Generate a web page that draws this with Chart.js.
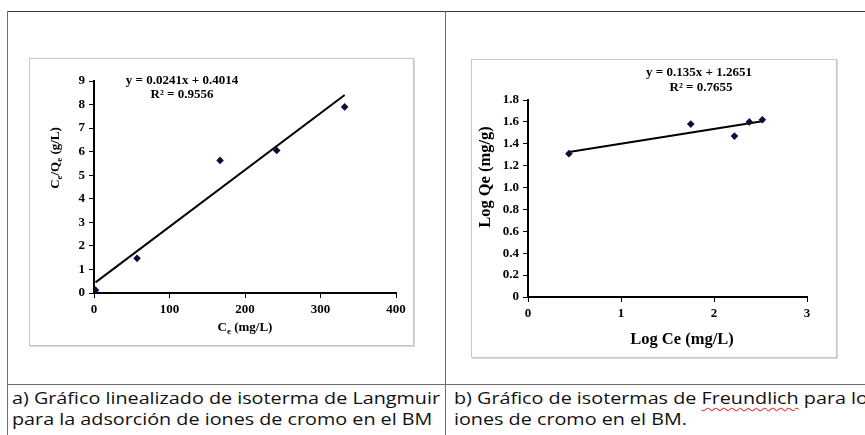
<!DOCTYPE html>
<html>
<head>
<meta charset="utf-8">
<title>Isotermas de adsorción</title>
<script src="https://cdn.jsdelivr.net/npm/chart.js@4.4.1/dist/chart.umd.min.js"></script>
<style>
  body { margin: 0; background: #fff; width: 865px; height: 435px; overflow: hidden; position: relative; }
  .rule { position: absolute; background: #6e6e6e; }
  .frame { position: absolute; box-sizing: border-box; border: 1px solid #c6c6c6; box-shadow: 1px 1px 0 #d8d8d8; }
  canvas { position: absolute; }
  .caption { position: absolute; font-family: "Open Sans", Lato, sans-serif; font-size: 17px; line-height: 21px; color: #111; white-space: nowrap; transform-origin: 0 0; }
  .typo { text-decoration: underline wavy #e23b3b; text-decoration-thickness: 1px; text-underline-offset: 3px; }
</style>
</head>
<body>

<!-- table grid -->
<div class="rule" style="left:7px;top:11px;width:858px;height:1px;background:#3a3a3a"></div>
<div class="rule" style="left:7px;top:11px;width:1px;height:424px"></div>
<div class="rule" style="left:445px;top:11px;width:1px;height:424px"></div>
<div class="rule" style="left:7px;top:384px;width:858px;height:1px"></div>

<div class="frame" style="left:29px;top:58px;width:385px;height:288px"></div>
<canvas id="langmuir" width="385" height="288" style="left:29px;top:58px"></canvas>

<div class="frame" style="left:471px;top:59px;width:366px;height:299px"></div>
<canvas id="freundlich" width="366" height="299" style="left:471px;top:59px"></canvas>

<div class="caption" id="capA" style="left:12px;top:387px"><span id="capA1">a) Gráfico linealizado de isoterma de Langmuir</span><br>para la adsorción de iones de cromo en el BM</div>
<div class="caption" id="capB" style="left:454px;top:387px">b) Gráfico de isotermas de <span class="typo">Freundlich</span> para los<br>iones de cromo en el BM.</div>

<script>
// Langmuir: Ce vs Ce/Qe
const langCe = [2, 57, 167, 242, 332];
const langRatio = [0.12, 1.47, 5.63, 6.05, 7.9];
const langSlope = 0.0241;
const langIntercept = 0.4014;
const langR2 = 0.9556;
const langXTicks = [0, 100, 200, 300, 400];
const langYTicks = [0, 1, 2, 3, 4, 5, 6, 7, 8, 9];

// Freundlich: log Ce vs log Qe
const freLogCe = [0.44, 1.75, 2.22, 2.38, 2.52];
const freLogQe = [1.31, 1.58, 1.47, 1.60, 1.62];
const freSlope = 0.135;
const freIntercept = 1.2651;
const freR2 = 0.7655;
const freXTicks = [0, 1, 2, 3];
const freYTicks = [0, 0.2, 0.4, 0.6, 0.8, 1, 1.2, 1.4, 1.6, 1.8];

const SERIF = "'Liberation Serif', 'Times New Roman', serif";
const MARKER = '#0c0c3a';

Chart.defaults.font.family = SERIF;
Chart.defaults.font.weight = 'bold';
Chart.defaults.font.size = 13;
Chart.defaults.color = '#000';

// stretch the caption lines to the cell width
let capWidth = document.getElementById('capA1').getBoundingClientRect().width;
let capScale = 428 / capWidth;
document.getElementById('capA').style.transform = 'scaleX(' + capScale + ')';
document.getElementById('capB').style.transform = 'scaleX(' + capScale + ')';

function points(xs, ys) {
    return xs.map((x, i) => ({ x: x, y: ys[i] }));
}

function trend(xs, slope, intercept) {
    let lo = Math.min(...xs), hi = Math.max(...xs);
    return [{ x: lo, y: slope * lo + intercept }, { x: hi, y: slope * hi + intercept }];
}

// text with optional subscript runs, centred on (x, y), optionally rotated
function drawRich(ctx, item) {
    let size = item.size;
    let runs = item.parts.map(p => ({ text: p[0], sub: !!p[1] }));
    let width = 0;
    runs.forEach(r => {
        ctx.font = 'bold ' + (r.sub ? size * 0.68 : size) + 'px ' + SERIF;
        r.w = ctx.measureText(r.text).width;
        width += r.w;
    });
    ctx.save();
    ctx.translate(item.x, item.y);
    if (item.rot) ctx.rotate(item.rot);
    ctx.fillStyle = '#000';
    ctx.textBaseline = 'alphabetic';
    let cx = -width / 2;
    runs.forEach(r => {
        ctx.font = 'bold ' + (r.sub ? size * 0.68 : size) + 'px ' + SERIF;
        ctx.fillText(r.text, cx, size * 0.33 + (r.sub ? size * 0.22 : 0));
        cx += r.w;
    });
    ctx.restore();
}

function notes(items) {
    return {
        id: 'notes',
        afterDraw(chart) {
            items.forEach(it => drawRich(chart.ctx, it));
        }
    };
}

function axis(min, max, step, tickList, size) {
    return {
        type: 'linear',
        min: min,
        max: max,
        afterFit: s => { if (s.isHorizontal()) s.height = size; else s.width = size; },
        afterBuildTicks: s => { s.ticks = tickList.map(v => ({ value: v })); },
        grid: { drawOnChartArea: false, drawTicks: true, tickLength: 5, color: '#000', lineWidth: 1 },
        border: { display: true, color: '#000', width: 2 },
        ticks: {
            stepSize: step,
            padding: 4,
            color: '#000',
            font: { family: SERIF, size: 13, weight: 'bold' }
        }
    };
}

function scatterChart(id, cfg) {
    let el = document.getElementById(id);
    return new Chart(el, {
        type: 'scatter',
        data: {
            datasets: [{
                data: cfg.trend,
                showLine: true,
                borderColor: '#000',
                borderWidth: 2,
                pointRadius: 0,
                order: 1
            }, {
                data: cfg.points,
                pointStyle: 'rectRot',
                pointRadius: 3.8,
                backgroundColor: MARKER,
                borderColor: MARKER,
                borderWidth: 0,
                order: 0
            }]
        },
        options: {
            responsive: false,
            animation: false,
            layout: { padding: cfg.padding },
            plugins: { legend: { display: false }, tooltip: { enabled: false } },
            scales: { x: cfg.x, y: cfg.y }
        },
        plugins: [notes(cfg.notes)]
    });
}

scatterChart('langmuir', {
    points: points(langCe, langRatio),
    trend: trend(langCe, langSlope, langIntercept),
    padding: { top: 23, right: 18, bottom: 0, left: 0 },
    x: axis(0, 400, 100, langXTicks, 53),
    y: axis(0, 9, 1, langYTicks, 65),
    notes: [
        { parts: [['y = ' + langSlope + 'x + ' + langIntercept]], x: 153, y: 22, size: 13 },
        { parts: [['R² = ' + langR2]], x: 153, y: 36, size: 13 },
        { parts: [['C'], ['e', 1], [' (mg/L)']], x: 216, y: 269, size: 13 },
        { parts: [['C'], ['e', 1], ['/Q'], ['e', 1], [' (g/L)']], x: 26, y: 100, size: 13, rot: -Math.PI / 2 }
    ]
});

scatterChart('freundlich', {
    points: points(freLogCe, freLogQe),
    trend: trend(freLogCe, freSlope, freIntercept),
    padding: { top: 41, right: 30, bottom: 0, left: 0 },
    x: axis(0, 3, 1, freXTicks, 61),
    y: axis(0, 1.8, 0.2, freYTicks, 57),
    notes: [
        { parts: [['y = ' + freSlope + 'x + ' + freIntercept]], x: 228, y: 13, size: 13 },
        { parts: [['R² = ' + freR2]], x: 230, y: 28, size: 13 },
        { parts: [['Log Ce (mg/L)']], x: 211, y: 280, size: 16.5 },
        { parts: [['Log Qe (mg/g)']], x: 14, y: 118, size: 16.5, rot: -Math.PI / 2 }
    ]
});
</script>
</body>
</html>
